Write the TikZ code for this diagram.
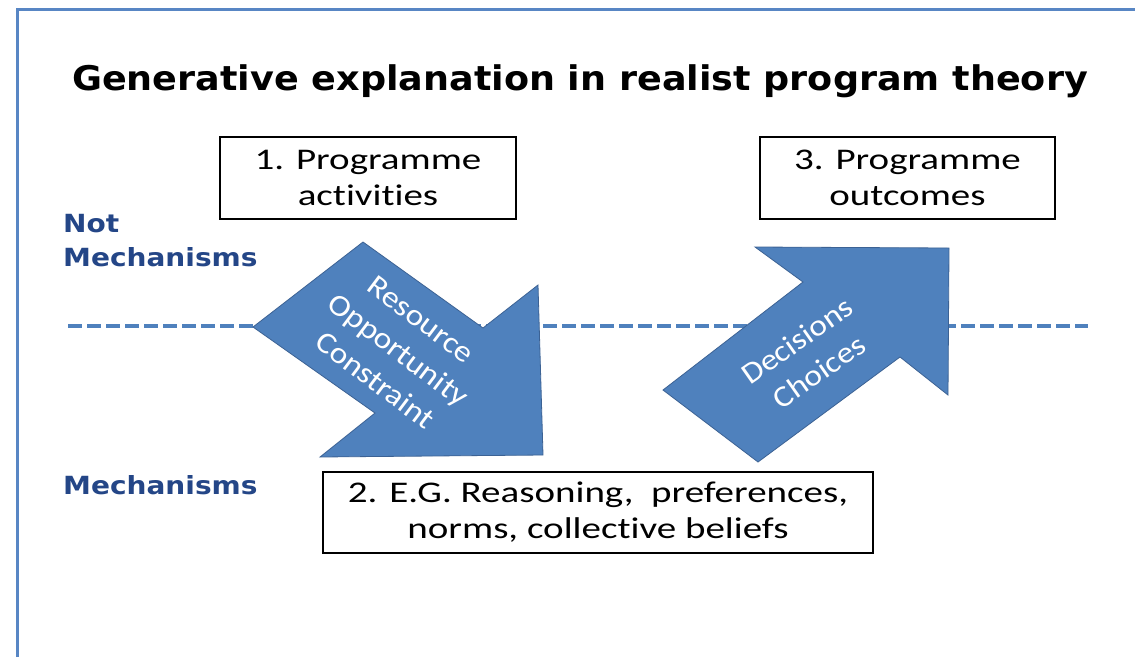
\documentclass[tikz,border=0pt]{standalone}
\usepackage{fontspec}
\setmainfont{Carlito}
\newfontfamily\boxfont[FakeStretch=1.3, Ligatures=NoCommon]{Carlito}
\newfontfamily\arrowfont[FakeStretch=1.12, Ligatures=NoCommon]{Carlito}
\newfontfamily\headfont[FakeStretch=1.075]{DejaVu Sans}
\newfontfamily\sidefont[FakeStretch=1.12]{DejaVu Sans}
\usetikzlibrary{positioning}
\definecolor{officeblue}{RGB}{79,129,189}
\definecolor{arrowedge}{RGB}{60,98,148}
\definecolor{frameblue}{RGB}{88,134,196}
\definecolor{labelblue}{RGB}{36,70,135}
\tikzset{
    boxnode/.style = {draw, rectangle, fill=white, line width=1.6pt, inner sep=0pt,
      align=center, font=\boxfont\fontsize{30}{36}\selectfont},
    titlenode/.style = {draw=none, inner sep=0pt, font=\headfont\bfseries\fontsize{34}{40}\selectfont},
    sidelabel/.style = {draw=none, inner sep=0pt, align=left, text=labelblue,
      font=\sidefont\bfseries\fontsize{25}{34}\selectfont},
    arrowtext/.style = {draw=none, inner sep=0pt, align=center, text=white,
      font=\arrowfont\fontsize{30}{38}\selectfont},
    bigarrow/.style = {fill=officeblue, draw=arrowedge, line width=0.8pt, line join=miter},
    divider/.style = {draw=officeblue, line width=3.5pt, dash pattern=on 14pt off 5pt},
    frameline/.style = {draw=frameblue, line width=3pt}
}

\begin{document}
\begin{tikzpicture}[x=1pt, y=-1pt]
    \useasboundingbox (0,0) rectangle (1135,657);
    \fill[white] (0,0) rectangle (1135,657);
    \draw[frameline] (17.5,657) -- (17.5,9) -- (1135,9);

    \node [titlenode, anchor=base] (title) at (580,90) {Generative explanation in realist program theory};

    % dashed border between the two levels
    \coordinate (divleft) at (68,326);
    \coordinate (divright) at (1088,326);
    \draw [divider] (divleft) -- (divright);

    \node [sidelabel, anchor=north west] (notmech) at (63,214) {Not\\Mechanisms};
    \node [sidelabel, anchor=base west] (mech) at (63,494) {Mechanisms};

    % block arrows
    \path [bigarrow] (253,327) -- (363,242) -- (483,328) -- (538,285) -- (543,455)
        -- (320,457) -- (375,413) -- cycle;
    \path [bigarrow] (663,390) -- (803,282) -- (755,247) -- (949,248) -- (948,395)
        -- (900,357) -- (758,462) -- cycle;
    \node [arrowtext, rotate=-37] (resource) at (398,350) {Resource\\Opportunity\\Constraint};
    \node [arrowtext, rotate=35] (decisions) at (808,356) {Decisions\\Choices};

    % the three boxes
    \node [boxnode, minimum width=296pt, minimum height=82pt] (activities) at (368,178)
        {1. Programme\\activities};
    \node [boxnode, minimum width=295pt, minimum height=82pt] (outcomes) at (907.5,178)
        {3. Programme\\outcomes};
    \node [boxnode, minimum width=550pt, minimum height=81pt] (reasoning) at (598,512.5)
        {2. E.G. Reasoning,~ preferences,\\norms, collective beliefs};
\end{tikzpicture}
\end{document}
